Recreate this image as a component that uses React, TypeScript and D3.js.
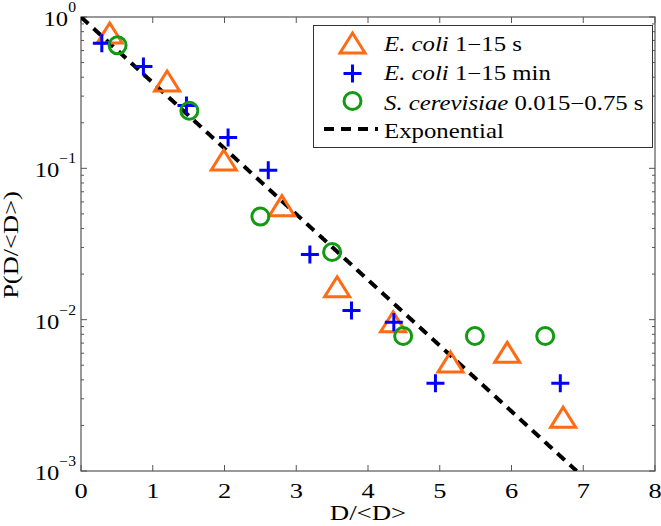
import React from "react";
import * as d3 from "d3";

const ecoliSecX = [0.4, 1.2, 1.99, 2.8, 3.57, 4.35, 5.15, 5.94, 6.72];
const ecoliSecY = [0.76, 0.366, 0.11, 0.055, 0.016, 0.0094, 0.0051, 0.0059, 0.0022];
const ecoliMinX = [0.29, 0.87, 1.47, 2.05, 2.61, 3.19, 3.77, 4.36, 4.94, 6.68];
const ecoliMinY = [0.67, 0.47, 0.26, 0.16, 0.097, 0.027, 0.0115, 0.0096, 0.0038, 0.0038];
const yeastX = [0.51, 1.51, 2.5, 3.5, 4.49, 5.49, 6.47];
const yeastY = [0.65, 0.24, 0.048, 0.028, 0.0078, 0.0078, 0.0078];
const xTicks = [0, 1, 2, 3, 4, 5, 6, 7, 8];
const yDecades = [0, -1, -2, -3];

const W = 661, H = 526;
const M = { left: 81, right: 655, top: 17, bottom: 471 };
const FONT = "'Liberation Serif', 'Times New Roman', serif";
const ORANGE = "#ff6a13";
const BLUE = "#0000ff";
const GREEN = "#129a12";
const AX = "#555";

function SText(props: { x: number; y: number; sx: number; size: number; anchor?: string; rotate?: number; children: any }) {
  const { x, y, sx, size, anchor, rotate, children } = props;
  return (
    <g transform={`translate(${x},${y}) rotate(${rotate || 0}) scale(${sx},1)`}>
      <text x={0} y={0} fontSize={size} textAnchor={anchor || "start"} fill="#000">{children}</text>
    </g>
  );
}

export default function App() {
  const x = d3.scaleLinear().domain([0, 8]).range([M.left, M.right]);
  const y = d3.scaleLog().domain([1e-3, 1]).range([M.bottom, M.top]);

  const minor: number[] = [];
  for (let e = -3; e < 0; e++) for (let k = 2; k <= 9; k++) minor.push(k * Math.pow(10, e));

  const expX = d3.range(0, Math.log(1000) + 1e-9, 0.01).concat([Math.log(1000)]);
  const line = d3.line<number>().x((d) => x(d)).y((d) => y(Math.exp(-d)));

  const tri = (cx: number, cy: number, k: string) => (
    <path key={k} d={`M${cx},${cy - 12}L${cx + 12.5},${cy + 8}L${cx - 12.5},${cy + 8}Z`}
      fill="none" stroke={ORANGE} strokeWidth={3} />
  );
  const plus = (cx: number, cy: number, k: string) => (
    <path key={k} d={`M${cx - 9},${cy}H${cx + 9}M${cx},${cy - 9}V${cy + 9}`} stroke={BLUE} strokeWidth={3} fill="none" />
  );
  const circ = (cx: number, cy: number, k: string) => (
    <circle key={k} cx={cx} cy={cy} r={8.5} fill="none" stroke={GREEN} strokeWidth={3} />
  );

  const legendRows = [
    { y: 44, base: 50.5, kind: "tri", it: "E. coli", rest: " 1\u221215 s" },
    { y: 73.5, base: 80, kind: "plus", it: "E. coli", rest: " 1\u221215 min" },
    { y: 101, base: 110, kind: "circ", it: "S. cerevisiae", rest: " 0.015\u22120.75 s" },
    { y: 129, base: 137.5, kind: "line", it: "", rest: "Exponential" },
  ];

  return (
    <svg width={W} height={H} style={{ display: "block", position: "absolute", left: 0, top: 0 }} fontFamily={FONT}>
      <rect width={W} height={H} fill="white" />
      <defs>
        <clipPath id="clip">
          <rect x={M.left} y={M.top} width={M.right - M.left} height={M.bottom - M.top} />
        </clipPath>
      </defs>
      {xTicks.map((t) => (
        <g key={"xt" + t}>
          <line x1={x(t)} x2={x(t)} y1={M.bottom} y2={M.bottom - 6} stroke={AX} />
          <line x1={x(t)} x2={x(t)} y1={M.top} y2={M.top + 6} stroke={AX} />
          <SText x={x(t)} y={498} sx={1.2} size={22} anchor="middle">{t}</SText>
        </g>
      ))}
      {yDecades.map((e) => (
        <g key={"yt" + e}>
          <line x1={M.left} x2={M.left + 6} y1={y(Math.pow(10, e))} y2={y(Math.pow(10, e))} stroke={AX} />
          <line x1={M.right} x2={M.right - 6} y1={y(Math.pow(10, e))} y2={y(Math.pow(10, e))} stroke={AX} />
          <SText x={76} y={y(Math.pow(10, e)) + 9} sx={1.12} size={22} anchor="end">
            10<tspan dy={-14} fontSize={14}>{e === 0 ? "0" : "\u2212" + -e}</tspan>
          </SText>
        </g>
      ))}
      {minor.map((v, i) => (
        <g key={"mn" + i}>
          <line x1={M.left} x2={M.left + 3} y1={y(v)} y2={y(v)} stroke={AX} />
          <line x1={M.right} x2={M.right - 3} y1={y(v)} y2={y(v)} stroke={AX} />
        </g>
      ))}
      <rect x={M.left} y={M.top} width={M.right - M.left} height={M.bottom - M.top} fill="none" stroke={AX} strokeWidth={1.2} />

      <g clipPath="url(#clip)">
        <path d={line(expX) || ""} fill="none" stroke="#000" strokeWidth={4} strokeDasharray="10,7" />
      </g>
      {ecoliSecX.map((v, i) => tri(x(v), y(ecoliSecY[i]), "t" + i))}
      {ecoliMinX.map((v, i) => plus(x(v), y(ecoliMinY[i]), "p" + i))}
      {yeastX.map((v, i) => circ(x(v), y(yeastY[i]), "c" + i))}

      <rect x={313.5} y={25.5} width={339} height={122} fill="white" stroke="#333" strokeWidth={1} />
      {legendRows.map((r, i) => (
        <g key={"lg" + i}>
          {r.kind === "tri" && tri(352.5, r.y + 1, "lt")}
          {r.kind === "plus" && plus(352.5, r.y, "lp")}
          {r.kind === "circ" && circ(352.5, r.y, "lc")}
          {r.kind === "line" && (
            <line x1={324} x2={378} y1={r.y} y2={r.y} stroke="#000" strokeWidth={4} strokeDasharray="10,7" />
          )}
          <SText x={384} y={r.base} sx={1.24} size={20}>
            {r.it && <tspan fontStyle="italic">{r.it}</tspan>}
            {r.rest}
          </SText>
        </g>
      ))}

      <SText x={368} y={520} sx={1.22} size={22} anchor="middle">D/&lt;D&gt;</SText>
      <SText x={18} y={245} sx={1.26} size={21} anchor="middle" rotate={-90}>P(D/&lt;D&gt;)</SText>
    </svg>
  );
}
